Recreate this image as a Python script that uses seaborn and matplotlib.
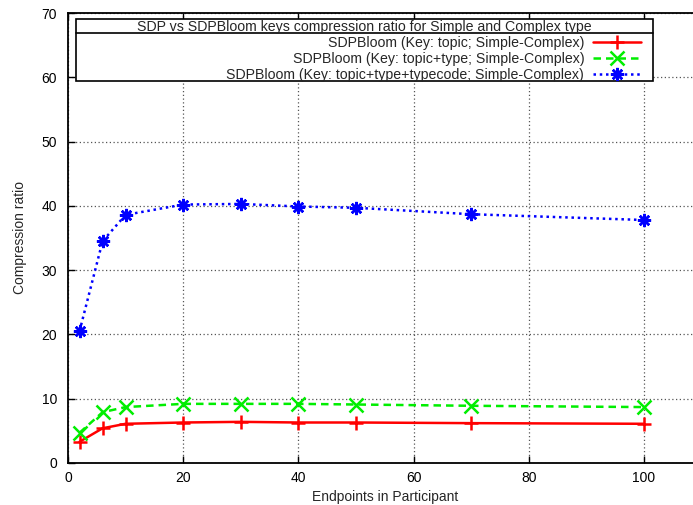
import matplotlib
matplotlib.use("Agg")
import matplotlib.pyplot as plt
import seaborn as sns
import pandas as pd
from matplotlib.patches import Rectangle
from matplotlib.lines import Line2D

endpoints = [2, 6, 10, 20, 30, 40, 50, 70, 100]
topic = [3.3, 5.4, 6.1, 6.3, 6.4, 6.3, 6.3, 6.2, 6.1]
topic_type = [4.7, 7.9, 8.7, 9.2, 9.2, 9.2, 9.1, 8.9, 8.7]
topic_type_code = [20.5, 34.5, 38.6, 40.2, 40.3, 39.9, 39.7, 38.7, 37.8]
labels = ["SDPBloom (Key: topic; Simple-Complex)",
          "SDPBloom (Key: topic+type; Simple-Complex)",
          "SDPBloom (Key: topic+type+typecode; Simple-Complex)"]
title = "SDP vs SDPBloom keys compression ratio for Simple and Complex type"
xticks = [0, 20, 40, 60, 80, 100]
yticks = [0, 10, 20, 30, 40, 50, 60, 70]

sns.set_style("white")
plt.rcParams['font.family'] = ['Liberation Sans', 'DejaVu Sans']

W, H = 693, 505
fig = plt.figure(figsize=(W/100, H/100), dpi=100)
x0, x1 = 68, 68 + 110*5.76
y0, y1 = 463, 13
ax = fig.add_axes([x0/W, 1 - y0/H, (x1-x0)/W, (y0-y1)/H])

colors = ["#ff0000", "#00ee00", "#0000ff"]
styles = ["-", (0, (3, 2)), (0, (1, 1.5))]
markers = ["+", "x", (8, 2, 0)]
series = [topic, topic_type, topic_type_code]
handles = []
for vals, lab, c, ls, m in zip(series, labels, colors, styles, markers):
    df = pd.DataFrame({"x": endpoints, "y": vals})
    sns.lineplot(data=df, x="x", y="y", ax=ax, color=c, linestyle=ls, linewidth=1.8,
                 marker=m, markersize=9.5, markeredgewidth=1.8, markeredgecolor=c, label=lab)
    handles.append(Line2D([], [], color=c, linestyle=ls, linewidth=1.8, marker=m,
                          markersize=9.5, markeredgewidth=1.8, markeredgecolor=c))

ax.set_xlim(0, 110)
ax.set_ylim(0, 70)
ax.set_xticks(xticks)
ax.set_yticks(yticks)
ax.grid(True, color="#555555", linestyle=(0, (1, 2)), linewidth=0.9)
for s in ["left", "bottom", "top"]:
    ax.spines[s].set_visible(True)
    ax.spines[s].set_color("black")
    ax.spines[s].set_linewidth(1.3)
ax.spines["right"].set_visible(False)
ax.tick_params(axis="both", direction="in", length=5, width=1, labelsize=10, colors="black",
               top=True, left=True, bottom=True)
ax.tick_params(axis="x", pad=6)
ax.tick_params(axis="y", pad=8)
ax.set_xlabel("Endpoints in Participant", fontsize=10, labelpad=3)
ax.set_ylabel("Compression ratio", fontsize=10, labelpad=10)
ax.get_legend().remove()

# legend box
fig.add_artist(Rectangle((76/W, 1-81/H), (653-76)/W, (81-19)/H, transform=fig.transFigure,
                         facecolor="white", edgecolor="black", linewidth=1.2, zorder=5))
fig.add_artist(Line2D([76/W, 653/W], [1-33/H, 1-33/H], transform=fig.transFigure,
                      color="black", linewidth=1.2, zorder=6))
fig.text((76+653)/2/W, 1-26.5/H, title, ha="center", va="center", fontsize=10.2, zorder=7)
leg = fig.legend(handles, labels, loc="upper right", bbox_to_anchor=(648/W, 1-28.5/H),
                 frameon=False, markerfirst=False, fontsize=10.2, handlelength=3.4,
                 labelspacing=0.15, handletextpad=0.6, borderpad=0.0, handleheight=0.6)
leg.set_zorder(8)

fig.savefig("out.png", dpi=100)
